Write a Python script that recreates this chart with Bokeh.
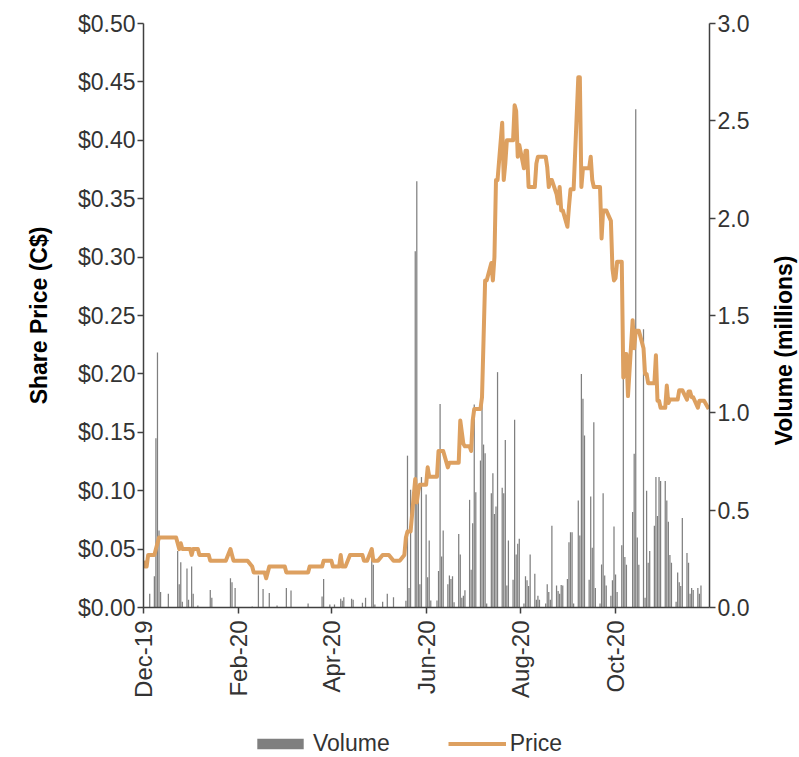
import math
import pandas as pd
from bokeh.plotting import figure
from bokeh.layouts import column, row
from bokeh.models import (Range1d, LinearAxis, FixedTicker, DatetimeTickFormatter,
                          PrintfTickFormatter, Legend, LegendItem, Label, ColumnDataSource)
from bokeh.embed import file_html
from bokeh.resources import INLINE

# ---------------- data (trading days, Mon-Fri, per month) ----------------
month_starts = ["2019-12-01", "2020-01-01", "2020-02-01", "2020-03-01", "2020-04-01", "2020-05-01",
                "2020-06-01", "2020-07-01", "2020-08-01", "2020-09-01", "2020-10-01", "2020-11-01"]

# Share price (C$)
price_dec = [0.040, 0.035, 0.035, 0.045, 0.045, 0.045, 0.050, 0.055, 0.060, 0.060, 0.060,
             0.060, 0.060, 0.060, 0.060, 0.060, 0.055, 0.050, 0.055, 0.050, 0.050, 0.050]
price_jan = [0.050, 0.045, 0.050, 0.050, 0.045, 0.045, 0.045, 0.045, 0.045, 0.040, 0.040, 0.040,
             0.040, 0.040, 0.040, 0.040, 0.040, 0.040, 0.050, 0.045, 0.040, 0.040, 0.040]
price_feb = [0.040, 0.040, 0.040, 0.040, 0.040, 0.035, 0.030, 0.030, 0.030, 0.030,
             0.030, 0.030, 0.025, 0.030, 0.035, 0.035, 0.035, 0.035, 0.035, 0.035]
price_mar = [0.035, 0.030, 0.030, 0.030, 0.030, 0.030, 0.030, 0.030, 0.030, 0.030, 0.030,
             0.030, 0.035, 0.035, 0.035, 0.035, 0.035, 0.035, 0.035, 0.040, 0.040, 0.040]
price_apr = [0.040, 0.035, 0.035, 0.035, 0.045, 0.035, 0.035, 0.035, 0.045, 0.045, 0.045,
             0.045, 0.045, 0.045, 0.045, 0.040, 0.040, 0.040, 0.050, 0.040, 0.040, 0.040]
price_may = [0.040, 0.045, 0.045, 0.045, 0.045, 0.045, 0.040, 0.040, 0.040, 0.040, 0.040,
             0.045, 0.060, 0.065, 0.065, 0.065, 0.110, 0.090, 0.100, 0.105, 0.105]
price_jun = [0.105, 0.120, 0.112, 0.112, 0.112, 0.112, 0.134, 0.134, 0.134, 0.134, 0.120,
             0.124, 0.124, 0.124, 0.124, 0.124, 0.160, 0.150, 0.140, 0.138, 0.138, 0.134]
price_jul = [0.160, 0.170, 0.170, 0.170, 0.180, 0.230, 0.280, 0.280, 0.295, 0.280, 0.300, 0.366,
             0.366, 0.415, 0.366, 0.380, 0.400, 0.400, 0.400, 0.430, 0.425, 0.386, 0.396]
price_aug = [0.376, 0.391, 0.391, 0.360, 0.360, 0.360, 0.380, 0.386, 0.386, 0.386, 0.386,
             0.377, 0.360, 0.366, 0.366, 0.354, 0.346, 0.360, 0.340, 0.340, 0.326]
price_sep = [0.343, 0.358, 0.358, 0.358, 0.454, 0.454, 0.360, 0.376, 0.376, 0.376, 0.386,
             0.366, 0.360, 0.360, 0.360, 0.316, 0.340, 0.340, 0.340, 0.331, 0.290, 0.280]
price_oct = [0.282, 0.296, 0.296, 0.197, 0.217, 0.217, 0.181, 0.246, 0.222, 0.237, 0.237,
             0.237, 0.222, 0.200, 0.200, 0.192, 0.192, 0.192, 0.216, 0.177, 0.177, 0.171]
price_nov = [0.171, 0.190, 0.175, 0.178, 0.178, 0.178, 0.178, 0.186, 0.186, 0.186, 0.178,
             0.185, 0.185, 0.180, 0.180, 0.171, 0.177, 0.177, 0.177, 0.177, 0.170]

# Volume (millions)
vol_dec = [0, 0, 0, 0, 0.07, 0.16, 0.87, 1.31, 0.395, 0.08, 0, 0, 0.07, 0, 0, 0,
           0.29, 0.12, 0.233, 0.03, 0.20, 0.04]
vol_jan = [0, 0.21, 0.07, 0.01, 0, 0, 0, 0, 0, 0.09, 0.05, 0, 0, 0, 0, 0, 0, 0,
           0.15, 0.13, 0, 0.10, 0]
vol_feb = [0, 0, 0, 0, 0, 0.005, 0, 0, 0, 0.164, 0.095, 0, 0, 0, 0.075, 0, 0, 0.01, 0, 0]
vol_mar = [0, 0.10, 0, 0, 0.087, 0, 0, 0, 0, 0, 0, 0.02, 0, 0, 0, 0, 0, 0, 0.056, 0.147, 0, 0.015]
vol_apr = [0, 0, 0.015, 0, 0.045, 0.035, 0.053, 0, 0, 0.045, 0.04, 0, 0, 0, 0.025, 0,
           0.05, 0, 0.267, 0.22, 0.015, 0]
vol_may = [0, 0.03, 0, 0, 0.07, 0, 0.053, 0, 0, 0, 0, 0, 0.035, 0.78, 0.10, 0.605,
           1.83, 2.19, 0.55, 0.12, 0.67]
vol_jun = [0.58, 0.156, 0.344, 0.036, 0, 0.036, 0.187, 1.046, 0.262, 0.395, 0.12, 0.164,
           0.146, 0.16, 0.027, 0.378, 0.272, 0.05, 0.06, 0.088, 0.553, 0.194]
vol_jul = [0.433, 1.043, 0.592, 0.755, 1.043, 0.837, 0.793, 0.02, 0.587, 0.69, 0.48, 0.519,
           1.209, 0.615, 0.587, 0.861, 0.113, 0.344, 0.142, 0.964, 0.272, 0.327, 0.353]
vol_aug = [0.02, 0.16, 0.14, 0.11, 0.272, 0.173, 0.04, 0.06, 0.04, 0, 0.02, 0.12, 0.08,
           0.04, 0.42, 0.113, 0.085, 0.07, 0.115, 0.113, 0.146]
vol_sep = [0.335, 0.387, 0.387, 0.02, 0.55, 0.37, 1.20, 1.072, 0.883, 0.142, 0.57, 0.307,
           0.952, 0.10, 0.02, 0.221, 0.587, 0.164, 0.113, 0.06, 0.14, 0.416]
vol_oct = [0.17, 0.08, 0.32, 1.21, 0.26, 0.22, 0, 0.49, 0.79, 2.56, 0.36, 0.22, 1.43, 0.05,
           0.60, 0.23, 0.29, 0.42, 0.67, 0.47, 0.67, 0.65]
vol_nov = [0.65, 0.55, 0.44, 0.27, 0.23, 0.03, 0.18, 0.13, 0.11, 0.46, 0.28, 0.23, 0.07,
           0.10, 0.09, 0.10, 0.07, 0.113, 0, 0, 0]

price_months = [price_dec, price_jan, price_feb, price_mar, price_apr, price_may,
                price_jun, price_jul, price_aug, price_sep, price_oct, price_nov]
vol_months = [vol_dec, vol_jan, vol_feb, vol_mar, vol_apr, vol_may,
              vol_jun, vol_jul, vol_aug, vol_sep, vol_oct, vol_nov]

price_ticks = [0.00, 0.05, 0.10, 0.15, 0.20, 0.25, 0.30, 0.35, 0.40, 0.45, 0.50]
vol_ticks = [0.0, 0.5, 1.0, 1.5, 2.0, 2.5, 3.0]
date_tick_days = ["2019-12-02", "2020-02-01", "2020-04-01", "2020-06-01", "2020-08-01", "2020-10-01"]

# ---------------- build table ----------------
dates, prices, vols = [], [], []
for ms, pm, vm in zip(month_starts, price_months, vol_months):
    start = pd.Timestamp(ms)
    days = pd.bdate_range(start, start + pd.offsets.MonthEnd(0))
    if len(days) != len(pm) or len(days) != len(vm):
        raise ValueError(f"{ms}: {len(days)} days, {len(pm)} prices, {len(vm)} volumes")
    dates += list(days)
    prices += pm
    vols += vm

src = ColumnDataSource(data=dict(date=dates, price=prices, vol=vols))

DAY = 86400000
x0 = pd.Timestamp("2019-12-02")
x1 = pd.Timestamp("2020-11-30") + pd.Timedelta(hours=12)

FONT = "Liberation Sans"
FS = "23px"
axis_col = "#404040"
lab_col = "#333333"
BAR_COL = "#7f7f7f"
LINE_COL = "#DDA060"

W = 799
W_TITLE = 32
W_MAIN = W - W_TITLE
H_MAIN = 725
H_LEG = 757 - H_MAIN
TOP, BOTTOM = 23, H_MAIN - 607

p = figure(width=W_MAIN, height=H_MAIN, x_axis_type="datetime",
           x_range=Range1d(x0, x1), y_range=Range1d(0, 0.5),
           output_backend="svg", toolbar_location=None,
           min_border_left=143, min_border_right=W_MAIN - 709, min_border_top=TOP,
           min_border_bottom=BOTTOM)
p.outline_line_color = None
p.xgrid.visible = False
p.ygrid.visible = False
p.background_fill_color = "white"
p.border_fill_color = "white"

p.extra_y_ranges = {"vol": Range1d(0, 3.0)}

bars = p.vbar(x="date", top="vol", width=0.8 * DAY, source=src, y_range_name="vol",
              fill_color=BAR_COL, line_color=None)
line = p.line(x="date", y="price", source=src, line_color=LINE_COL, line_width=4,
              line_join="round")


def style_axis(ax):
    ax.major_label_text_font = FONT
    ax.major_label_text_font_size = FS
    ax.major_label_text_color = lab_col
    ax.axis_line_color = axis_col
    ax.axis_line_width = 1.5
    ax.major_tick_line_color = axis_col
    ax.major_tick_line_width = 1.5
    ax.major_tick_out = 6
    ax.major_tick_in = 0
    ax.minor_tick_line_color = None
    ax.axis_label_text_font = FONT
    ax.axis_label_text_font_style = "bold"
    ax.axis_label_text_font_size = FS
    ax.axis_label_text_color = "#000000"


# left axis
ya = p.yaxis[0]
ya.ticker = FixedTicker(ticks=price_ticks)
ya.formatter = PrintfTickFormatter(format="$%.2f")
style_axis(ya)
ya.major_label_standoff = 2
ya.axis_label = "Share Price (C$)"
ya.axis_label_standoff = 23

# right axis
ra = LinearAxis(y_range_name="vol", ticker=FixedTicker(ticks=vol_ticks),
                formatter=PrintfTickFormatter(format="%.1f"))
style_axis(ra)
ra.major_label_standoff = 2
p.add_layout(ra, "right")

# bottom axis
xa = p.xaxis[0]
xa.ticker = FixedTicker(ticks=[pd.Timestamp(d).value // 10**6 for d in date_tick_days])
fmt = "%b-%y"
xa.formatter = DatetimeTickFormatter(milliseconds=fmt, seconds=fmt, minsec=fmt, minutes=fmt,
                                     hourmin=fmt, hours=fmt, days=fmt, months=fmt, years=fmt)
style_axis(xa)
xa.major_label_text_font_size = "24px"
xa.major_label_orientation = math.pi / 2
xa.major_label_standoff = 7

# ---------------- right-hand axis title strip ----------------
r = figure(width=W_TITLE, height=H_MAIN, x_range=Range1d(0, 1), y_range=Range1d(0, 1),
           x_axis_location=None, y_axis_location=None,
           output_backend="svg", toolbar_location=None,
           min_border_left=0, min_border_right=0, min_border_top=TOP, min_border_bottom=BOTTOM)
r.grid.visible = False
r.outline_line_color = None
r.background_fill_color = "white"
r.border_fill_color = "white"
r.add_layout(Label(x=16, y=607 - 350, x_units="screen", y_units="screen",
                   text="Volume (millions)", angle=math.pi / 2,
                   text_align="center", text_baseline="middle",
                   text_font=FONT, text_font_style="bold", text_font_size=FS,
                   text_color="#000000"))

# ---------------- legend strip below the chart ----------------
q = figure(width=W, height=H_LEG, x_range=Range1d(0, 1), y_range=Range1d(0, 1),
           x_axis_location=None, y_axis_location=None,
           output_backend="svg", toolbar_location=None,
           min_border_left=143, min_border_right=0, min_border_top=0, min_border_bottom=0)
q.grid.visible = False
q.outline_line_color = None
q.background_fill_color = "white"
q.border_fill_color = "white"
# legend key renderers (zero-size marks, only their styles are used)
leg_bar = q.vbar(x=[0.5], top=[0], width=0.0, fill_color=BAR_COL, line_color=None)
leg_line = q.line(x=[0.5], y=[0.5], line_color=LINE_COL, line_width=4)

legend = Legend(items=[LegendItem(label="Volume", renderers=[leg_bar]),
                       LegendItem(label="Price", renderers=[leg_line])],
                orientation="horizontal", location=(108, 0),
                glyph_width=58, glyph_height=13, label_standoff=4, spacing=58,
                padding=0, margin=0, border_line_color=None, background_fill_alpha=0,
                label_text_font=FONT, label_text_font_size=FS,
                label_text_color=lab_col, label_height=24)
q.add_layout(legend)

layout = column(row(p, r, spacing=0), q, spacing=0)
open("out.html", "w").write(file_html(layout, INLINE))
